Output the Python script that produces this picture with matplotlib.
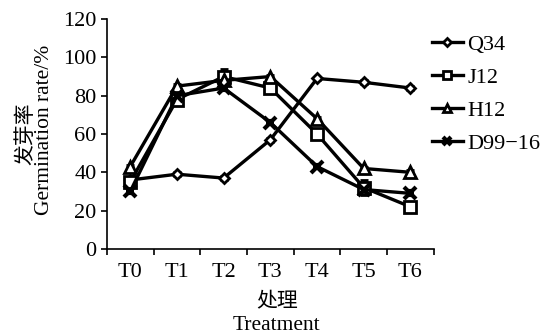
import matplotlib.pyplot as plt
import numpy as np

plt.rcParams['font.family'] = ['Liberation Serif', 'Noto Sans CJK SC']

treatments = ['T0', 'T1', 'T2', 'T3', 'T4', 'T5', 'T6']
names = ['Q34', 'J12', 'H12', 'D99\u221216']
q34 = [36, 39, 37, 57, 89, 87, 84]
j12 = [35, 78, 90, 84, 60, 32, 22]
h12 = [43, 85, 88, 90, 68, 42, 40]
d99 = [30, 80, 84, 66, 43, 31, 29]
q34_err = [1, 1, 1, 1, 1, 1, 1]
j12_err = [2, 2, 4, 2, 2, 4, 1]
h12_err = [1, 1, 1, 1, 1, 1, 1]
d99_err = [1, 1, 1, 1, 1, 1, 1]

fig = plt.figure(figsize=(5.54, 3.35), dpi=100)
ax = fig.add_axes([0.193, 0.257, 0.59, 0.686])

x = np.arange(len(treatments))
series = [(q34, q34_err), (j12, j12_err), (h12, h12_err), (d99, d99_err)]
markers = [dict(marker='D', markersize=5.5, markerfacecolor='white', markeredgewidth=2),
           dict(marker='s', markersize=8, markerfacecolor='white', markeredgewidth=2),
           dict(marker='^', markersize=8, markerfacecolor='white', markeredgewidth=2),
           dict(marker='x', markersize=8, markeredgewidth=3)]

handles = []
for (vals, err), mk, name in zip(series, markers, names):
    ax.errorbar(x, vals, yerr=err, color='black', linewidth=2.4, capsize=3,
                elinewidth=1.5, capthick=1.5, **mk)
    # plain line+marker proxy so the legend shows no error bars
    h, = ax.plot([], [], color='black', linewidth=2.4, label=name, **mk)
    handles.append(h)

ax.set_xlim(-0.5, 6.5)
ax.set_ylim(0, 120)
ax.set_yticks(np.arange(0, 121, 20))
ax.set_xticks(np.arange(-0.5, 7, 1))
ax.set_xticklabels([])
ax.set_xticks(x, minor=True)
ax.set_xticklabels(treatments, minor=True)
ax.tick_params(axis='x', which='minor', length=0, pad=10, labelsize=16)
ax.tick_params(axis='both', which='major', direction='out', length=4, width=1.2,
               labelsize=16)
ax.spines['top'].set_visible(False)
ax.spines['right'].set_visible(False)
ax.spines['left'].set_linewidth(1.2)
ax.spines['bottom'].set_linewidth(1.2)

# two-line axis titles: Chinese above English
fig.text(27 / 554, 1 - 134 / 335, '发芽率', rotation=90, fontsize=15,
         ha='center', va='center')
fig.text(45 / 554, 1 - 130 / 335, 'Germination rate/%', rotation=90, fontsize=15.5,
         ha='center', va='center')
fig.text(277 / 554, 1 - 303 / 335, '处理', fontsize=15, ha='center', va='center')
fig.text(276 / 554, 1 - 325 / 335, 'Treatment', fontsize=15.5, ha='center', va='center')

ax.legend(handles=handles, loc='upper left', bbox_to_anchor=(0.933, 1.02), frameon=False,
          fontsize=16, handlelength=1.4, handletextpad=0.2, labelspacing=0.56,
          markerscale=0.8)

plt.savefig('out.png', dpi=100)
